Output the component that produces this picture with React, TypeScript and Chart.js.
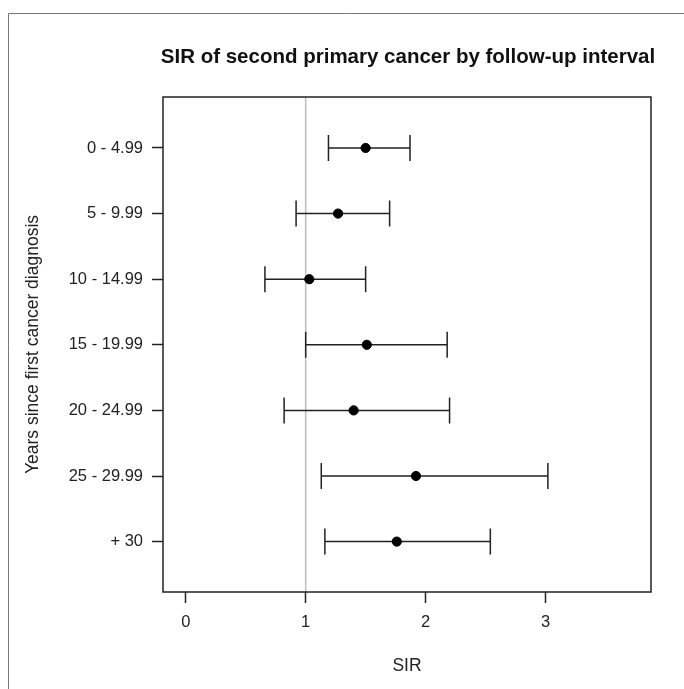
import React, { useEffect, useRef } from "react";
import { Chart, registerables } from "chart.js";

Chart.register(...registerables);

const categories = ["0 - 4.99", "5 - 9.99", "10 - 14.99", "15 - 19.99", "20 - 24.99", "25 - 29.99", "+ 30"];
const sirValues = [1.50, 1.27, 1.03, 1.51, 1.40, 1.92, 1.76];
const lowerCI = [1.19, 0.92, 0.66, 1.00, 0.82, 1.13, 1.16];
const upperCI = [1.87, 1.70, 1.50, 2.18, 2.20, 3.02, 2.54];
const xTickValues = [0, 1, 2, 3];
const referenceValue = 1;

const chartTitle = "SIR of second primary cancer by follow-up interval";
const xTitle = "SIR";
const yTitle = "Years since first cancer diagnosis";

const FONT = "'Liberation Sans', Arial, Helvetica, sans-serif";

export default function App() {
  const ref = useRef<HTMLCanvasElement | null>(null);

  useEffect(() => {
    document.body.style.margin = "0";
    const canvas = ref.current;
    if (!canvas) return;

    const errorBars = {
      id: "errorBars",
      beforeDatasetsDraw(chart: any) {
        const { ctx, chartArea } = chart;
        const xs = chart.scales.x;
        const ys = chart.scales.y;
        ctx.save();
        ctx.strokeStyle = "#bdbdbd";
        ctx.lineWidth = 1.5;
        const rx = xs.getPixelForValue(referenceValue);
        ctx.beginPath();
        ctx.moveTo(rx, chartArea.top);
        ctx.lineTo(rx, chartArea.bottom);
        ctx.stroke();
        ctx.strokeStyle = "#222";
        ctx.lineWidth = 1.5;
        const cap = 13;
        categories.forEach((_, i) => {
          const y = ys.getPixelForValue(i + 1);
          const x1 = xs.getPixelForValue(lowerCI[i]);
          const x2 = xs.getPixelForValue(upperCI[i]);
          ctx.beginPath();
          ctx.moveTo(x1, y);
          ctx.lineTo(x2, y);
          ctx.moveTo(x1, y - cap);
          ctx.lineTo(x1, y + cap);
          ctx.moveTo(x2, y - cap);
          ctx.lineTo(x2, y + cap);
          ctx.stroke();
        });
        ctx.restore();
      },
      afterDraw(chart: any) {
        const { ctx, chartArea } = chart;
        ctx.save();
        ctx.strokeStyle = "#222";
        ctx.lineWidth = 1.5;
        ctx.strokeRect(chartArea.left, chartArea.top, chartArea.right - chartArea.left, chartArea.bottom - chartArea.top);
        ctx.strokeStyle = "#777";
        ctx.lineWidth = 1;
        ctx.beginPath();
        ctx.moveTo(8.5, chart.height);
        ctx.lineTo(8.5, 13.5);
        ctx.lineTo(chart.width, 13.5);
        ctx.stroke();
        ctx.fillStyle = "#111";
        ctx.textAlign = "center";
        ctx.textBaseline = "middle";
        ctx.font = `bold 20.5px ${FONT}`;
        ctx.fillText(chartTitle, (chartArea.left + chartArea.right) / 2 + 1, 57);
        ctx.font = `17.5px ${FONT}`;
        ctx.fillStyle = "#222";
        ctx.fillText(xTitle, (chartArea.left + chartArea.right) / 2, 666);
        ctx.translate(33, (chartArea.top + chartArea.bottom) / 2);
        ctx.rotate(-Math.PI / 2);
        ctx.fillText(yTitle, 0, 0);
        ctx.restore();
      },
    };

    const chart = new Chart(canvas, {
      type: "scatter",
      data: {
        datasets: [
          {
            data: sirValues.map((v, i) => ({ x: v, y: i + 1 })),
            backgroundColor: "#000",
            borderColor: "#000",
            pointRadius: 4.6,
            pointHoverRadius: 4.6,
          },
        ],
      },
      plugins: [errorBars],
      options: {
        animation: false,
        responsive: false,
        events: [],
        layout: { padding: { left: 0, right: 33, top: 97, bottom: 0 } },
        plugins: { legend: { display: false }, tooltip: { enabled: false }, title: { display: false } },
        scales: {
          x: {
            type: "linear",
            min: -0.19,
            max: 3.88,
            afterBuildTicks: (s: any) => {
              s.ticks = xTickValues.map((v) => ({ value: v }));
            },
            afterFit: (s: any) => {
              s.height = 97;
            },
            grid: { drawOnChartArea: false, drawTicks: true, tickLength: 11, tickColor: "#222", tickWidth: 1.5 },
            border: { display: false },
            ticks: {
              padding: 10,
              color: "#222",
              font: { family: FONT, size: 16.5 },
              callback: (v: any) => String(v),
            },
          },
          y: {
            type: "linear",
            reverse: true,
            min: 0.223,
            max: 7.768,
            afterBuildTicks: (s: any) => {
              s.ticks = categories.map((_, i) => ({ value: i + 1 }));
            },
            afterFit: (s: any) => {
              s.width = 163;
            },
            grid: { drawOnChartArea: false, drawTicks: true, tickLength: 11, tickColor: "#222", tickWidth: 1.5 },
            border: { display: false },
            ticks: {
              padding: 9,
              color: "#222",
              font: { family: FONT, size: 16.5 },
              callback: (v: any) => categories[Math.round(v) - 1] ?? "",
            },
          },
        },
      },
    });
    return () => chart.destroy();
  }, []);

  return (
    <div style={{ width: 684, height: 689, background: "#fff" }}>
      <canvas ref={ref} width={684} height={689} style={{ display: "block", width: 684, height: 689 }} />
    </div>
  );
}
